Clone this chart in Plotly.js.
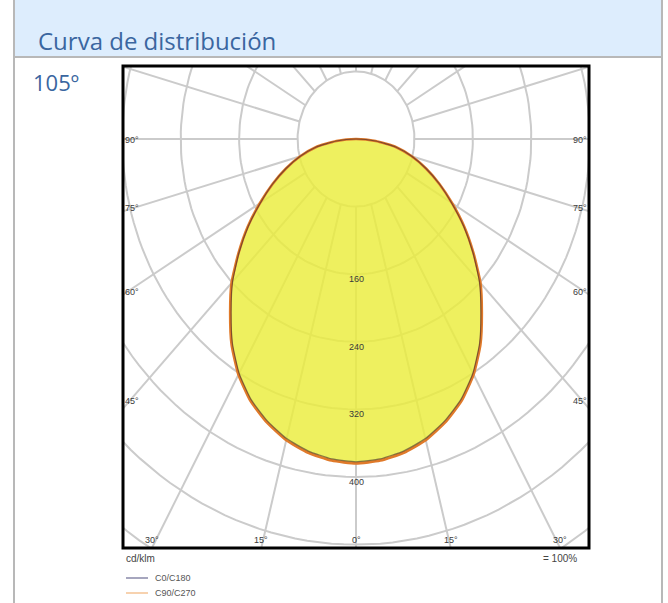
<!DOCTYPE html>
<html>
<head>
<meta charset="utf-8">
<script src="https://cdn.plot.ly/plotly-3.0.1.min.js"></script>
<style>html,body{margin:0;padding:0;background:#fff;}#chart{width:668px;height:603px;}</style>
</head>
<body>
<div id="chart"></div>
<script>
// ---- data (cd/klm vs gamma angle, degrees from nadir) ----
const gammaAngles = [0, 5, 10, 15, 20, 25, 30, 35, 40, 45, 50, 55, 60, 65, 70, 75, 80, 85, 90];
const c0c180  = [382, 380, 375, 367, 355, 340, 320, 295, 266, 239, 209, 180, 151, 126, 102, 79, 56, 27, 0];
const c90c270 = [384, 382, 377, 369, 357, 342, 322, 297, 268, 241, 210, 181, 152, 126, 102, 79, 56, 27, 0];
const seriesNames = ['C0/C180', 'C90/C270'];
const ringValues = [80, 160, 240, 320, 400, 480, 560];
const ringLabels = ['160', '240', '320', '400'];
const spokeStep = 15;
const sideAngleLabels = [90, 75, 60, 45];
const bottomAngleLabels = [30, 15, 0];

const W = 668, H = 603;
const px = x => x / W, py = y => 1 - y / H;
const XR = [-319, 319], YR = [-484, 86.4];
const rad = d => d * Math.PI / 180;

const traces = [];
const gridColor = '#cbcbcb';
// rings
ringValues.forEach(r => {
  const xs = [], ys = [];
  for (let a = 0; a <= 360; a += 2) { xs.push(r * Math.sin(rad(a))); ys.push(-r * Math.cos(rad(a))); }
  traces.push({x: xs, y: ys, mode: 'lines', line: {color: gridColor, width: 2}, hoverinfo: 'skip', showlegend: false});
});
// spokes
for (let a = 0; a < 360; a += spokeStep) {
  const r0 = ringValues[0], r1 = 900;
  traces.push({x: [r0 * Math.sin(rad(a)), r1 * Math.sin(rad(a))], y: [-r0 * Math.cos(rad(a)), -r1 * Math.cos(rad(a))],
    mode: 'lines', line: {color: gridColor, width: 2}, hoverinfo: 'skip', showlegend: false});
}
// curve helper: full symmetric curve from -90 to 90
function curve(vals) {
  const xs = [], ys = [];
  for (let i = gammaAngles.length - 1; i >= 0; i--) { const a = -gammaAngles[i]; xs.push(vals[i] * Math.sin(rad(a))); ys.push(-vals[i] * Math.cos(rad(a))); }
  for (let i = 1; i < gammaAngles.length; i++) { const a = gammaAngles[i]; xs.push(vals[i] * Math.sin(rad(a))); ys.push(-vals[i] * Math.cos(rad(a))); }
  return {xs, ys};
}
const cA = curve(c0c180), cB = curve(c90c270);
traces.push({x: cB.xs, y: cB.ys, mode: 'lines', fill: 'toself', fillcolor: 'rgba(234,237,60,0.82)',
  line: {color: '#e07a2a', width: 2.6, shape: 'spline', smoothing: 0.5}, name: seriesNames[1], hoverinfo: 'skip', showlegend: false});
traces.push({x: cA.xs, y: cA.ys, mode: 'lines', line: {color: 'rgba(50,30,40,0.55)', width: 1.2, shape: 'spline', smoothing: 0.5},
  name: seriesNames[0], hoverinfo: 'skip', showlegend: false});

const lblFont = {family: 'Liberation Sans, Arial, sans-serif', size: 9, color: '#3a3a3a'};
const annotations = [];
ringLabels.forEach(t => {
  annotations.push({x: 0, y: -Number(t), xref: 'x', yref: 'y', text: t, showarrow: false, font: lblFont, yanchor: 'middle', yshift: -5, xanchor: 'center'});
});
const sideShift = {90: -1, 75: 3, 60: 3, 45: 8};
sideAngleLabels.forEach(a => {
  const yv = a === 90 ? 0 : -XR[1] / Math.tan(rad(a));
  annotations.push({x: XR[0], y: yv, xref: 'x', yref: 'y', text: a + '°', showarrow: false, font: lblFont, xanchor: 'left', yanchor: 'middle', yshift: sideShift[a]});
  annotations.push({x: XR[1], y: yv, xref: 'x', yref: 'y', text: a + '°', showarrow: false, font: lblFont, xanchor: 'right', yanchor: 'middle', yshift: sideShift[a]});
});
bottomAngleLabels.forEach(a => {
  const xv = -YR[0] * Math.tan(rad(a));
  annotations.push({x: -xv, y: YR[0], xref: 'x', yref: 'y', text: a + '°', showarrow: false, font: lblFont, xanchor: 'center', yanchor: 'bottom', yshift: 1});
  if (a !== 0) annotations.push({x: xv, y: YR[0], xref: 'x', yref: 'y', text: a + '°', showarrow: false, font: lblFont, xanchor: 'center', yanchor: 'bottom', yshift: 1});
});
// page texts
const headFont = {family: 'Open Sans, Noto Sans, sans-serif', size: 24, color: '#3a66a0'};
annotations.push({x: px(36), y: py(40), xref: 'paper', yref: 'paper', text: 'Curva de distribución', showarrow: false, font: headFont, xanchor: 'left', yanchor: 'middle'});
annotations.push({x: px(31), y: py(82), xref: 'paper', yref: 'paper', text: '105º', showarrow: false, font: {family: 'Open Sans, Noto Sans, sans-serif', size: 22, color: '#3a66a0'}, xanchor: 'left', yanchor: 'middle'});
const smallFont = {family: 'Liberation Sans, Arial, sans-serif', size: 10, color: '#444'};
annotations.push({x: px(124), y: py(558), xref: 'paper', yref: 'paper', text: 'cd/klm', showarrow: false, font: smallFont, xanchor: 'left', yanchor: 'middle'});
annotations.push({x: px(579), y: py(558), xref: 'paper', yref: 'paper', text: '= 100%', showarrow: false, font: smallFont, xanchor: 'right', yanchor: 'middle'});
const legFont = {family: 'Liberation Sans, Arial, sans-serif', size: 9, color: '#555'};
annotations.push({x: px(153), y: py(578), xref: 'paper', yref: 'paper', text: seriesNames[0], showarrow: false, font: legFont, xanchor: 'left', yanchor: 'middle'});
annotations.push({x: px(153), y: py(593), xref: 'paper', yref: 'paper', text: seriesNames[1], showarrow: false, font: legFont, xanchor: 'left', yanchor: 'middle'});

const shapes = [
  {type: 'rect', xref: 'paper', yref: 'paper', x0: px(14), x1: px(662), y0: py(57), y1: py(0), fillcolor: '#ddedfd', line: {width: 0}, layer: 'below'},
  {type: 'line', xref: 'paper', yref: 'paper', x0: px(14), x1: px(14), y0: py(0), y1: py(603), line: {color: '#b8b8b8', width: 2}},
  {type: 'line', xref: 'paper', yref: 'paper', x0: px(662), x1: px(662), y0: py(0), y1: py(603), line: {color: '#b8b8b8', width: 2}},
  {type: 'line', xref: 'paper', yref: 'paper', x0: px(14), x1: px(662), y0: py(57), y1: py(57), line: {color: '#b8b8b8', width: 2}},
  {type: 'rect', xref: 'x domain', yref: 'y domain', x0: 0, x1: 1, y0: 0, y1: 1, line: {color: '#000', width: 3}},
  {type: 'line', xref: 'paper', yref: 'paper', x0: px(126), x1: px(148), y0: py(578), y1: py(578), line: {color: '#6a6a92', width: 1.2}},
  {type: 'line', xref: 'paper', yref: 'paper', x0: px(126), x1: px(148), y0: py(593), y1: py(593), line: {color: '#f2b47a', width: 1.2}}
];

const layout = {
  width: W, height: H, margin: {l: 0, r: 0, t: 0, b: 0}, paper_bgcolor: '#fff', plot_bgcolor: '#fff',
  showlegend: false,
  xaxis: {domain: [px(123), px(589)], range: XR, showgrid: false, zeroline: false, showticklabels: false, ticks: '', fixedrange: true},
  yaxis: {domain: [py(548), py(66)], range: YR, showgrid: false, zeroline: false, showticklabels: false, ticks: '', fixedrange: true},
  annotations, shapes
};
Plotly.newPlot('chart', traces, layout, {staticPlot: true, displayModeBar: false});
</script>
</body>
</html>
